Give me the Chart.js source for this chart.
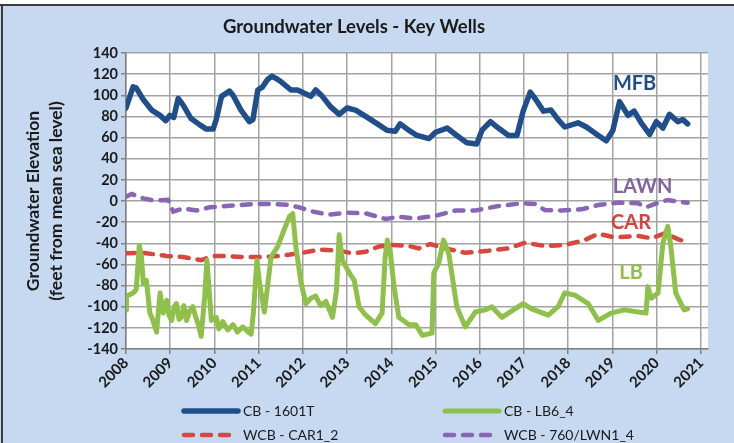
<!DOCTYPE html>
<html>
<head>
<meta charset="utf-8">
<title>Groundwater Levels - Key Wells</title>
<script src="https://cdn.jsdelivr.net/npm/chart.js@4.4.1/dist/chart.umd.min.js"></script>
<style>
  html, body { margin: 0; padding: 0; background: #ffffff; }
  #chart { display: block; }
</style>
</head>
<body>
<canvas id="chart" width="734" height="443"></canvas>
<script>
// --- data (decimal year, feet above mean sea level) ---
const yearTicks = [2008, 2009, 2010, 2011, 2012, 2013, 2014, 2015, 2016, 2017, 2018, 2019, 2020, 2021];

const mfbYears = [2008.0, 2008.16, 2008.23, 2008.39, 2008.58, 2008.77, 2008.9, 2008.99, 2009.08, 2009.18, 2009.29, 2009.47, 2009.67, 2009.82, 2009.97, 2010.04, 2010.16, 2010.34, 2010.42, 2010.6, 2010.79, 2010.87, 2010.98, 2011.09, 2011.2, 2011.3, 2011.39, 2011.5, 2011.73, 2011.88, 2012.03, 2012.18, 2012.29, 2012.44, 2012.63, 2012.82, 2013.0, 2013.19, 2013.42, 2013.72, 2013.9, 2014.09, 2014.2, 2014.39, 2014.58, 2014.85, 2015.0, 2015.26, 2015.48, 2015.71, 2015.93, 2016.05, 2016.24, 2016.42, 2016.65, 2016.84, 2016.98, 2017.14, 2017.25, 2017.44, 2017.61, 2017.77, 2017.92, 2018.22, 2018.41, 2018.68, 2018.86, 2019.01, 2019.16, 2019.35, 2019.49, 2019.65, 2019.84, 2019.99, 2020.14, 2020.29, 2020.48, 2020.59, 2020.7];
const mfbLevels = [88, 108, 107, 96, 86, 81, 76, 81, 79, 97, 91, 78, 72, 68, 68, 77, 99, 104, 100, 86, 75, 77, 105, 108, 115, 118, 116, 113, 105, 105, 102, 99, 105, 99, 89, 82, 88, 86, 80, 72, 67, 66, 73, 67, 62, 59, 65, 69, 62, 55, 54, 67, 75, 69, 62, 62, 85, 103, 97, 85, 86, 77, 70, 74, 70, 62, 57, 67, 94, 81, 85, 74, 63, 75, 69, 82, 75, 77, 73];

const lbYears = [2008.0, 2008.01, 2008.16, 2008.23, 2008.3, 2008.35, 2008.39, 2008.46, 2008.54, 2008.61, 2008.69, 2008.77, 2008.84, 2008.92, 2008.97, 2009.03, 2009.09, 2009.14, 2009.2, 2009.25, 2009.31, 2009.37, 2009.44, 2009.51, 2009.57, 2009.63, 2009.7, 2009.78, 2009.83, 2009.93, 2010.04, 2010.1, 2010.19, 2010.3, 2010.42, 2010.52, 2010.64, 2010.74, 2010.83, 2010.88, 2010.96, 2011.02, 2011.13, 2011.2, 2011.28, 2011.43, 2011.54, 2011.69, 2011.77, 2011.84, 2011.96, 2012.07, 2012.18, 2012.29, 2012.4, 2012.52, 2012.67, 2012.76, 2012.82, 2012.89, 2013.05, 2013.16, 2013.27, 2013.42, 2013.64, 2013.79, 2013.86, 2013.91, 2013.98, 2014.06, 2014.17, 2014.4, 2014.55, 2014.7, 2014.92, 2014.96, 2015.07, 2015.18, 2015.3, 2015.48, 2015.67, 2015.9, 2016.12, 2016.27, 2016.5, 2016.76, 2016.98, 2017.17, 2017.55, 2017.77, 2017.92, 2018.15, 2018.45, 2018.68, 2018.97, 2019.27, 2019.58, 2019.76, 2019.8, 2019.88, 2020.03, 2020.14, 2020.25, 2020.32, 2020.43, 2020.62, 2020.7];
const lbLevels = [-103, -90, -87, -84, -42, -53, -78, -75, -106, -113, -124, -87, -106, -94, -108, -113, -100, -97, -112, -110, -99, -113, -104, -100, -109, -116, -128, -90, -56, -113, -110, -121, -114, -122, -117, -124, -119, -123, -126, -106, -56, -78, -105, -81, -53, -43, -31, -15, -12, -43, -78, -97, -92, -90, -99, -95, -110, -84, -32, -56, -68, -75, -100, -108, -116, -106, -53, -37, -50, -81, -110, -117, -117, -127, -125, -68, -59, -37, -50, -100, -119, -105, -103, -100, -110, -103, -97, -102, -108, -100, -87, -89, -97, -113, -106, -103, -105, -106, -81, -92, -87, -40, -24, -43, -87, -103, -102];

const carYears = [2008.0, 2008.39, 2008.92, 2009.29, 2009.7, 2009.97, 2010.27, 2010.64, 2011.09, 2011.47, 2011.92, 2012.37, 2012.82, 2013.12, 2013.42, 2013.72, 2014.02, 2014.4, 2014.62, 2014.88, 2015.22, 2015.67, 2016.2, 2016.65, 2017.02, 2017.47, 2017.92, 2018.37, 2018.68, 2019.05, 2019.58, 2019.88, 2020.18, 2020.48, 2020.7];
const carLevels = [-49.5, -49, -52, -53, -56, -52, -52, -53, -53, -52, -49.5, -46, -47, -49.5, -48, -43, -41.6, -42.6, -44.8, -40.7, -44.8, -49, -47, -44.8, -39.5, -42.6, -41.6, -37, -31, -34.4, -33, -35.3, -30.6, -36, -39.5];

const lawnYears = [2008.0, 2008.13, 2008.39, 2008.65, 2008.95, 2009.07, 2009.29, 2009.59, 2009.89, 2010.27, 2010.57, 2010.94, 2011.32, 2011.69, 2011.92, 2012.22, 2012.59, 2012.97, 2013.42, 2013.87, 2014.17, 2014.55, 2015.0, 2015.45, 2015.9, 2016.42, 2016.95, 2017.25, 2017.47, 2017.85, 2018.3, 2018.68, 2019.13, 2019.58, 2019.76, 2019.99, 2020.25, 2020.48, 2020.7];
const lawnLevels = [4, 6.6, 2.5, 0.3, 1, -10, -7, -9, -6, -4.7, -3.8, -2.8, -2.8, -3.8, -6, -10, -13, -11, -11.7, -17, -15, -16.5, -14, -9, -9, -4.7, -2.2, -2.8, -8.5, -9, -7.9, -3.8, -1.6, -2.2, -6, -2.2, 1, -0.6, -1.6];

// short names written next to the lines inside the plot
const seriesTags = [
  { text: "MFB", year: 2019.5, level: 111, color: "#1f4e8a" },
  { text: "LAWN", year: 2019.68, level: 14, color: "#8064a2" },
  { text: "CAR", year: 2019.42, level: -20, color: "#d2463f" },
  { text: "LB", year: 2019.42, level: -68, color: "#8fc04a" },
];

const FONT = "Lato, 'Liberation Sans', sans-serif";
const toPoints = (xs, ys) => xs.map((x, i) => ({ x, y: ys[i] }));

// light blue frame, dark edge, white plot area
const backgroundPlugin = {
  id: "background",
  beforeDraw(chart) {
    const { ctx, width, height, chartArea } = chart;
    ctx.save();
    ctx.fillStyle = "#ffffff";
    ctx.fillRect(0, 0, width, height);
    ctx.fillStyle = "#c6d9f1";
    ctx.fillRect(0, 4, width, height - 4);
    ctx.fillStyle = "#3c3c3c";
    ctx.fillRect(0, 4, width, 2);
    ctx.fillRect(1, 4, 2, height - 4);
    ctx.fillStyle = "#ffffff";
    ctx.fillRect(chartArea.left, chartArea.top, chartArea.right - chartArea.left, chartArea.bottom - chartArea.top);
    ctx.restore();
  },
};

// well names next to the lines
const tagPlugin = {
  id: "tags",
  afterDatasetsDraw(chart) {
    const { ctx, scales } = chart;
    ctx.save();
    ctx.font = "bold 20px " + FONT;
    ctx.textAlign = "center";
    ctx.textBaseline = "middle";
    seriesTags.forEach((t) => {
      ctx.fillStyle = t.color;
      ctx.fillText(t.text, scales.x.getPixelForValue(t.year), scales.y.getPixelForValue(t.level));
    });
    ctx.restore();
  },
};

// two-column legend under the axis, like the Excel one
const legendPlugin = {
  id: "gridLegend",
  afterDraw(chart) {
    const { ctx } = chart;
    const cols = [182, 443];
    const rows = [411, 435];
    ctx.save();
    ctx.font = "14px " + FONT;
    ctx.textBaseline = "middle";
    chart.data.datasets.forEach((ds, i) => {
      const x = cols[i % 2];
      const y = rows[Math.floor(i / 2)];
      ctx.strokeStyle = ds.borderColor;
      ctx.lineWidth = ds.borderWidth;
      ctx.lineCap = ds.borderCapStyle || "butt";
      ctx.setLineDash(ds.borderDash || []);
      ctx.beginPath();
      ctx.moveTo(x + 2, y);
      ctx.lineTo(x + 56, y);
      ctx.stroke();
      ctx.setLineDash([]);
      ctx.fillStyle = "#1a1a1a";
      ctx.fillText(ds.label, x + 61, y);
    });
    ctx.restore();
  },
};

const gridColor = "#a3a3a3";

new Chart(document.getElementById("chart"), {
  type: "line",
  data: {
    datasets: [
      {
        label: "CB - 1601T",
        data: toPoints(mfbYears, mfbLevels),
        borderColor: "#1f4e8a",
        borderWidth: 5.5,
        borderJoinStyle: "round",
        borderCapStyle: "round",
      },
      {
        label: "CB - LB6_4",
        data: toPoints(lbYears, lbLevels),
        borderColor: "#8fc04a",
        borderWidth: 5,
        borderJoinStyle: "round",
        borderCapStyle: "round",
      },
      {
        label: "WCB - CAR1_2",
        data: toPoints(carYears, carLevels),
        borderColor: "#d9463e",
        borderWidth: 4.5,
        borderDash: [9, 9],
        borderCapStyle: "round",
      },
      {
        label: "WCB - 760/LWN1_4",
        data: toPoints(lawnYears, lawnLevels),
        borderColor: "#8a65b5",
        borderWidth: 4.5,
        borderDash: [9, 9],
        borderCapStyle: "round",
      },
    ],
  },
  options: {
    responsive: false,
    animation: false,
    devicePixelRatio: 1,
    layout: { padding: { left: 0, right: 26, top: 0, bottom: 0 } },
    elements: { point: { radius: 0 }, line: { tension: 0 } },
    plugins: {
      legend: { display: false },
      tooltip: { enabled: false },
      title: {
        display: true,
        text: "Groundwater Levels - Key Wells",
        color: "#1a1a1a",
        font: { family: FONT, size: 18.5, weight: "bold", lineHeight: 1.2 },
        padding: { top: 16, bottom: 14.8 },
      },
    },
    scales: {
      x: {
        type: "linear",
        min: 2008,
        max: 2021.16,
        afterBuildTicks: (scale) => {
          scale.ticks = yearTicks.map((v) => ({ value: v }));
        },
        afterFit: (scale) => {
          scale.height = 94;
        },
        ticks: {
          autoSkip: false,
          minRotation: 45,
          maxRotation: 45,
          padding: 0,
          color: "#1a1a1a",
          font: { family: FONT, size: 15, weight: "bold" },
          callback: (v) => String(v),
        },
        grid: { color: gridColor, lineWidth: 1.5, tickLength: 5, tickColor: "#808080" },
        border: { color: "#808080", width: 1.5 },
      },
      y: {
        min: -140,
        max: 140,
        afterFit: (scale) => {
          scale.width = 126;
        },
        ticks: {
          stepSize: 10,
          padding: 3,
          color: "#1a1a1a",
          font: { family: FONT, size: 14.5, weight: "bold" },
          callback: (v) => (v % 20 === 0 ? String(v) : ""),
        },
        grid: {
          color: (c) => (c.tick && c.tick.value % 20 === 0 ? gridColor : "rgba(0,0,0,0)"),
          lineWidth: 1.5,
          tickLength: 5,
          tickColor: "#808080",
        },
        border: { color: "#808080", width: 1.5 },
        title: {
          display: true,
          text: ["Groundwater Elevation", "(feet from mean sea level)"],
          color: "#1a1a1a",
          font: { family: FONT, size: 17.5, weight: "bold", lineHeight: 1.3 },
          padding: { top: 22, bottom: 0 },
        },
      },
    },
  },
  plugins: [backgroundPlugin, tagPlugin, legendPlugin],
});
</script>
</body>
</html>
